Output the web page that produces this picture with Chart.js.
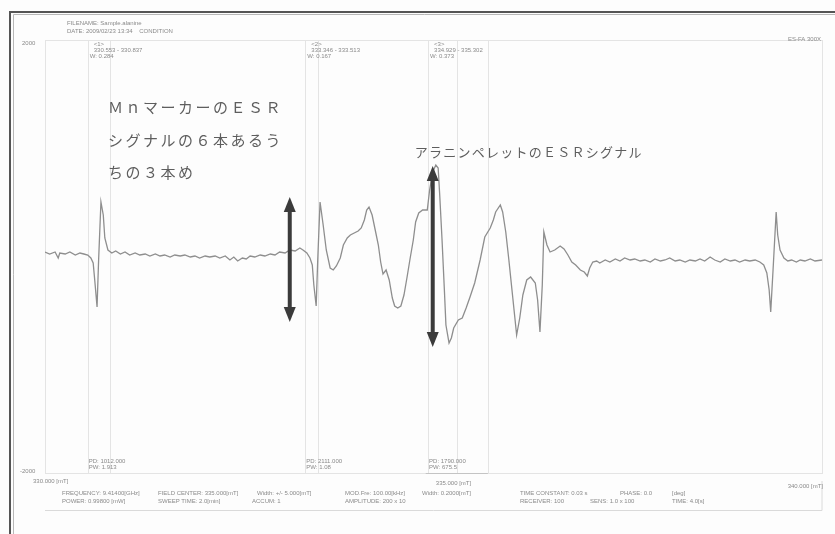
<!DOCTYPE html>
<html lang="ja">
<head>
<meta charset="utf-8">
<title>ESRスペクトル</title>
<script src="https://cdn.jsdelivr.net/npm/chart.js@4.4.1/dist/chart.umd.min.js"></script>
<style>
html, body { margin: 0; padding: 0; background: #fdfdfd; overflow: hidden; }
canvas { display: block; }
</style>
</head>
<body>
<canvas id="esrChart" width="835" height="534"></canvas>
<script>
// 磁場 [mT]
const fieldMT = [
    330.00, 330.06, 330.13, 330.17, 330.19, 330.26, 330.32, 330.39, 330.45, 330.50,
    330.55, 330.59, 330.62, 330.64, 330.67, 330.69, 330.72, 330.75, 330.77, 330.81,
    330.86, 330.91, 330.97, 331.03, 331.09, 331.16, 331.22, 331.29, 331.35, 331.42,
    331.48, 331.54, 331.61, 331.67, 331.74, 331.80, 331.87, 331.93, 331.99, 332.06,
    332.12, 332.19, 332.25, 332.32, 332.38, 332.43, 332.48, 332.54, 332.59, 332.64,
    332.70, 332.77, 332.83, 332.90, 332.96, 333.02, 333.09, 333.15, 333.22, 333.28,
    333.32, 333.37, 333.41, 333.44, 333.46, 333.49, 333.51, 333.54, 333.58, 333.62,
    333.67, 333.71, 333.75, 333.80, 333.84, 333.89, 333.93, 333.98, 334.03, 334.07,
    334.11, 334.14, 334.17, 334.21, 334.25, 334.29, 334.32, 334.35, 334.39, 334.43,
    334.47, 334.50, 334.54, 334.58, 334.62, 334.66, 334.70, 334.74, 334.77, 334.81,
    334.86, 334.92, 334.95, 334.99, 335.03, 335.06, 335.08, 335.11, 335.14, 335.16,
    335.20, 335.23, 335.26, 335.32, 335.37, 335.42, 335.47, 335.53, 335.60, 335.66,
    335.73, 335.77, 335.80, 335.86, 335.89, 335.93, 335.97, 336.01, 336.05, 336.07,
    336.11, 336.15, 336.20, 336.25, 336.31, 336.34, 336.37, 336.40, 336.42, 336.46,
    336.50, 336.56, 336.63, 336.68, 336.73, 336.78, 336.83, 336.89, 336.94, 336.98,
    337.01, 337.05, 337.10, 337.14, 337.21, 337.27, 337.34, 337.40, 337.46, 337.53,
    337.59, 337.66, 337.72, 337.79, 337.85, 337.92, 337.98, 338.04, 338.11, 338.17,
    338.24, 338.30, 338.37, 338.43, 338.49, 338.56, 338.62, 338.69, 338.75, 338.82,
    338.88, 338.94, 339.01, 339.07, 339.14, 339.20, 339.25, 339.29, 339.32, 339.34,
    339.37, 339.41, 339.43, 339.46, 339.51, 339.56, 339.61, 339.67, 339.72, 339.78,
    339.85, 339.91, 340.00
];

// 一次微分信号の強度 (任意単位)
const intensity = [
      1,  -1,   1,  -5,   0,  -1,   1,  -2,   0,  -1,
     -2,  -5, -10, -27, -54,  -7,  51,  38,  15,   3,
      0,   2,  -1,   1,  -2,   0,  -2,  -1,  -3,  -1,
     -3,  -2,  -4,  -2,  -3,  -2,  -4,  -3,  -5,  -3,
     -4,  -3,  -5,  -3,  -7,  -4,  -8,  -5,  -6,  -3,
     -4,  -2,  -3,  -1,  -2,   1,   0,   3,   2,   5,
      3,   0,  -5, -12, -32, -53,  -7,  51,  28,   3,
    -15, -17, -13,  -5,   8,  15,  18,  20,  22,  25,
     33,  43,  46,  38,  23,   8,  -9, -21, -17, -27,
    -45, -53, -55, -53, -42, -24,  -5,  13,  31,  40,
     43,  43,  63,  81,  88,  85,  58,  13, -37, -72,
    -90, -85, -75, -67, -65, -55, -44, -30,  -7,  16,
     25,  33,  41,  48,  41,  21,  -7, -37, -67, -82,
    -65, -42, -27, -24, -30, -47, -79, -32,  21,   8,
      1,   3,   7,   4,  -2,  -9, -12, -17, -19, -23,
    -15,  -9,  -8, -10,  -7,  -9,  -6,  -8,  -5,  -7,
     -6,  -8,  -7,  -9,  -6,  -8,  -7,  -5,  -8,  -7,
     -9,  -7,  -8,  -6,  -8,  -4,  -7,  -9,  -6,  -8,
     -7,  -9,  -7,  -8,  -7,  -9, -12, -20, -37, -59,
    -17,  41,  18,   3,  -5,  -8,  -7,  -9,  -7,  -8,
     -6,  -8,  -7
];

// 掃引範囲
const fieldMin = 330.0;
const fieldMax = 340.0;
const yMin = -220;
const yMax = 213;

// マーカー区間の境界 [mT]
const markerLines = [330.55, 330.84, 333.35, 333.51, 334.93, 335.30, 335.70];

// 振幅を示す矢印 (位置 [mT], 上端, 下端)
const arrowField = [333.15, 334.99];
const arrowTop = [56, 87];
const arrowBottom = [-69, -94];

// 書き込みの注記
const mnNoteLines = ['ＭｎマーカーのＥＳＲ', 'シグナルの６本あるう', 'ちの３本め'];
const mnNoteField = 330.81;
const mnNoteY = [146, 113, 81];
const alanineNote = 'アラニンペレットのＥＳＲシグナル';
const alanineNoteField = 334.76;
const alanineNoteY = 101;

// 印刷されたヘッダー・フッターの文字
const headerLines = ['FILENAME: Sample.alanine', 'DATE: 2009/02/23 13:34    CONDITION'];
const markerTitles = ['<1>', '<2>', '<3>'];
const markerRanges = ['330.553 - 330.837', '333.346 - 333.513', '334.929 - 335.302'];
const markerWidths = ['W: 0.284', 'W: 0.167', 'W: 0.373'];
const markerPD = ['PD: 1012.000', 'PD: 2111.000', 'PD: 1790.000'];
const markerPW = ['PW: 1.913', 'PW: 1.08', 'PW: 675.5'];
const fieldLabels = ['330.000 [mT]', '335.000 [mT]', '340.000 [mT]'];
const paramRow1 = ['FREQUENCY: 9.41400[GHz]', 'FIELD CENTER: 335.000[mT]', 'Width: +/- 5.000[mT]',
    'MOD.Fre: 100.00[kHz]', 'Width: 0.2000[mT]', 'TIME CONSTANT: 0.03 s', 'PHASE: 0.0', '[deg]'];
const paramRow2 = ['POWER: 0.99800 [mW]', 'SWEEP TIME: 2.0[min]', 'ACCUM: 1',
    'AMPLITUDE: 200 x 10', 'RECEIVER: 100', 'SENS: 1.0 x 100', 'TIME: 4.0[s]'];

const printout = {
    id: 'printout',
    beforeDraw(chart) {
        const ctx = chart.ctx;
        const { left, right, top, bottom } = chart.chartArea;
        const xs = chart.scales.x;
        const W = chart.width, H = chart.height;
        ctx.save();
        ctx.fillStyle = '#fdfdfd';
        ctx.fillRect(0, 0, W, H);

        // 外枠 (二重線)
        ctx.strokeStyle = '#555';
        ctx.lineWidth = 2;
        ctx.beginPath();
        ctx.moveTo(10, H + 2);
        ctx.lineTo(10, 12);
        ctx.lineTo(W + 2, 12);
        ctx.stroke();
        ctx.strokeStyle = '#b8b8b8';
        ctx.lineWidth = 1;
        ctx.beginPath();
        ctx.moveTo(13.5, H + 2);
        ctx.lineTo(13.5, 14.5);
        ctx.lineTo(W + 2, 14.5);
        ctx.stroke();

        // グラフ枠と区間線
        ctx.strokeStyle = '#e4e4e4';
        ctx.strokeRect(left + 0.5, top + 0.5, right - left, bottom - top);
        markerLines.forEach(f => {
            const px = Math.round(xs.getPixelForValue(f)) + 0.5;
            ctx.beginPath();
            ctx.moveTo(px, top);
            ctx.lineTo(px, bottom);
            ctx.stroke();
        });
        // フッター枠
        ctx.strokeStyle = '#dadada';
        ctx.beginPath();
        ctx.moveTo(left, 510.5);
        ctx.lineTo(right, 510.5);
        ctx.lineTo(right, bottom + 8);
        ctx.stroke();
        ctx.strokeStyle = '#c4c4c4';
        ctx.beginPath();
        ctx.moveTo(xs.getPixelForValue(334.9), bottom + 0.5);
        ctx.lineTo(xs.getPixelForValue(335.7), bottom + 0.5);
        ctx.stroke();

        // 小さい印字
        ctx.fillStyle = '#8a8a8a';
        ctx.font = '6px "Liberation Sans", Arial, sans-serif';
        ctx.textBaseline = 'middle';
        ctx.textAlign = 'left';
        ctx.fillText(headerLines[0], 67, 23);
        ctx.fillText(headerLines[1], 67, 31);
        ctx.fillText('2000', 22, 43);
        ctx.fillText('-2000', 20, 471);
        ctx.textAlign = 'right';
        ctx.fillText('ES-FA 300X', 821, 39);
        ctx.textAlign = 'left';
        const starts = [markerLines[0], markerLines[2], markerLines[4]];
        starts.forEach((f, i) => {
            const px = xs.getPixelForValue(f);
            ctx.fillText(markerTitles[i], px + 6, 44);
            ctx.fillText(markerRanges[i], px + 6, 50);
            ctx.fillText(markerWidths[i], px + 2, 56);
            ctx.fillText(markerPD[i], px + 1, 461);
            ctx.fillText(markerPW[i], px + 1, 467);
        });
        ctx.fillText(fieldLabels[0], 33, 481);
        ctx.textAlign = 'center';
        ctx.fillText(fieldLabels[1], xs.getPixelForValue(335.0) + 20, 483);
        ctx.textAlign = 'right';
        ctx.fillText(fieldLabels[2], 823, 486);
        ctx.textAlign = 'left';
        const col1 = [62, 158, 257, 345, 422, 520, 620, 672];
        paramRow1.forEach((t, i) => ctx.fillText(t, col1[i], 493));
        const col2 = [62, 158, 252, 345, 520, 590, 672];
        paramRow2.forEach((t, i) => ctx.fillText(t, col2[i], 501));
        ctx.restore();
    },
    afterDatasetsDraw(chart) {
        const ctx = chart.ctx;
        const xs = chart.scales.x;
        const ys = chart.scales.y;
        ctx.save();

        // 両矢印
        ctx.strokeStyle = '#3b3b3b';
        ctx.fillStyle = '#3b3b3b';
        arrowField.forEach((f, i) => {
            const px = xs.getPixelForValue(f);
            const y1 = ys.getPixelForValue(arrowTop[i]);
            const y2 = ys.getPixelForValue(arrowBottom[i]);
            const hw = 6, hl = 15;
            ctx.lineWidth = 4;
            ctx.beginPath();
            ctx.moveTo(px, y1 + hl - 2);
            ctx.lineTo(px, y2 - hl + 2);
            ctx.stroke();
            ctx.beginPath();
            ctx.moveTo(px, y1);
            ctx.lineTo(px - hw, y1 + hl);
            ctx.lineTo(px + hw, y1 + hl);
            ctx.closePath();
            ctx.fill();
            ctx.beginPath();
            ctx.moveTo(px, y2);
            ctx.lineTo(px - hw, y2 - hl);
            ctx.lineTo(px + hw, y2 - hl);
            ctx.closePath();
            ctx.fill();
        });

        // 注記
        ctx.fillStyle = '#5e5e5e';
        ctx.textAlign = 'left';
        ctx.textBaseline = 'middle';
        ctx.font = '15px "Noto Sans CJK JP", sans-serif';
        ctx.letterSpacing = '2.5px';
        mnNoteLines.forEach((t, i) => {
            ctx.fillText(t, xs.getPixelForValue(mnNoteField), ys.getPixelForValue(mnNoteY[i]));
        });
        ctx.font = '13px "Noto Sans CJK JP", sans-serif';
        ctx.letterSpacing = '1.25px';
        ctx.fillText(alanineNote, xs.getPixelForValue(alanineNoteField), ys.getPixelForValue(alanineNoteY));
        ctx.restore();
    }
};

const esrChart = new Chart(document.getElementById('esrChart').getContext('2d'), {
    type: 'line',
    data: {
        datasets: [{
            data: fieldMT.map((f, i) => ({ x: f, y: intensity[i] })),
            borderColor: '#8e8e8e',
            borderWidth: 1.3,
            pointRadius: 0,
            tension: 0,
            fill: false
        }]
    },
    options: {
        responsive: false,
        animation: false,
        devicePixelRatio: 1,
        layout: { padding: { left: 45, right: 13, top: 40, bottom: 61 } },
        scales: {
            x: { type: 'linear', min: fieldMin, max: fieldMax, display: false },
            y: { min: yMin, max: yMax, display: false }
        },
        plugins: {
            legend: { display: false },
            tooltip: { enabled: false }
        }
    },
    plugins: [printout]
});
</script>
</body>
</html>
